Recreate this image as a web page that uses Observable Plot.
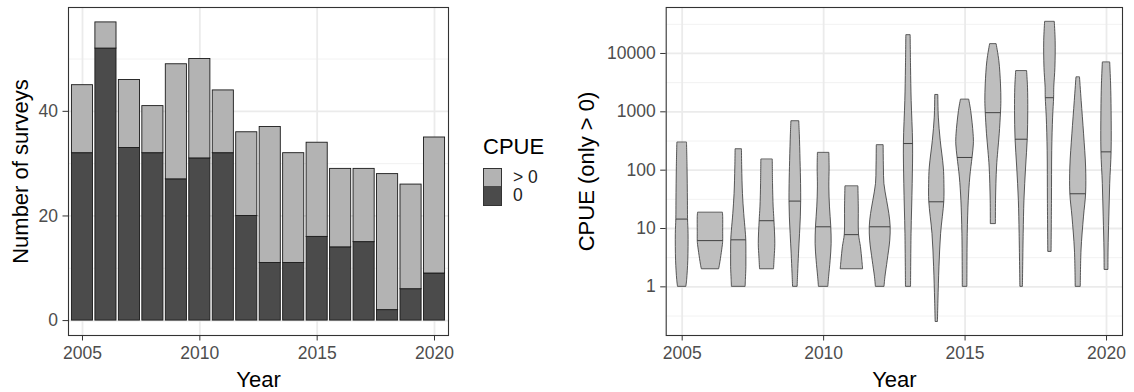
<!DOCTYPE html>
<html>
<head>
<meta charset="utf-8">
<script src="https://cdn.jsdelivr.net/npm/d3@7"></script>
<script src="https://cdn.jsdelivr.net/npm/@observablehq/plot@0.6"></script>
<style>
  html, body { margin: 0; padding: 0; background: white; }
  #wrap { position: relative; width: 1134px; height: 392px; font-family: "Liberation Sans", Arial, sans-serif; }
  #left, #right { position: absolute; top: 0; }
  #left { left: 0; }
  #right { left: 560px; }
  #legend { position: absolute; left: 483px; top: 136px; color: black; }
  #legend .title { font-size: 22px; line-height: 22px; margin-bottom: 10px; }
  #legend .row { display: flex; align-items: center; height: 18.5px; }
  #legend .key { width: 17px; height: 17.5px; border: 1px solid #333; box-sizing: content-box; }
  #legend .row + .row .key { border-top: none; height: 18.5px; }
  #legend .lab { font-size: 17.5px; margin-left: 11px; color: #222; }
</style>
</head>
<body>
<div id="wrap">
  <div id="left"></div>
  <div id="legend">
    <div class="title">CPUE</div>
    <div class="row"><div class="key" style="background:#b3b3b3"></div><div class="lab">&gt; 0</div></div>
    <div class="row"><div class="key" style="background:#4b4b4b"></div><div class="lab">0</div></div>
  </div>
  <div id="right"></div>
</div>
<script>
// Survey counts per year, split by whether any catch was recorded
const years = [2005, 2006, 2007, 2008, 2009, 2010, 2011, 2012, 2013, 2014, 2015, 2016, 2017, 2018, 2019, 2020];
const totalSurveys = [45, 57, 46, 41, 49, 50, 44, 36, 37, 32, 34, 29, 29, 28, 26, 35];
const zeroCatchSurveys = [32, 52, 33, 32, 27, 31, 32, 20, 11, 11, 16, 14, 15, 2, 6, 9];

// Positive CPUE per year: median and violin density profile [cpue, relative density]
const cpueMedian = [14.5, 6.2, 6.4, 13.6, 29.5, 10.7, 7.85, 10.7, 286, 28.7, 165, 968, 339, 1745, 39.4, 206];
const cpueDensity = [
  [[293, .38], [112, .42], [30, .45], [14.5, .46], [8.1, .50], [2.8, .48], [1.3, .39], [1, .33]],
  [[18.4, .98], [15.7, 1], [8.8, 1], [6.2, 1], [5.6, .99], [3.8, .89], [2.4, .75], [2.0, .68]],
  [[225, .25], [111, .27], [39, .33], [17.7, .43], [9.2, .54], [6.4, .59], [3.7, .60], [2.2, .60], [1.3, .56], [1, .54]],
  [[150, .45], [57, .47], [23, .52], [13.6, .58], [5.4, .65], [3.2, .60], [2.0, .55]],
  [[680, .31], [412, .35], [144, .41], [58, .45], [29.5, .46], [15.5, .43], [8.1, .37], [3.7, .29], [1.67, .22], [1, .18]],
  [[195, .45], [111, .47], [50.6, .45], [23, .50], [10.7, .60], [5.4, .63], [2.8, .55], [1.46, .43], [1, .37]],
  [[52, .51], [23, .54], [7.85, .56], [4.8, .71], [2.8, .82], [2.0, .88]],
  [[264, .27], [111, .29], [58, .33], [30, .54], [17.7, .72], [10.7, .82], [6.2, .79], [2.8, .59], [1.46, .41], [1, .34]],
  [[20300, .17], [5700, .20], [1530, .25], [286, .36], [58, .33], [8.1, .24], [1, .20]],
  [[1915, .12], [795, .16], [318, .31], [111, .55], [58, .60], [28.7, .59], [8.1, .34], [2.17, .21], [0.58, .13], [0.25, .09]],
  [[1593, .33], [1030, .48], [412, .67], [276, .69], [165, .59], [75, .41], [30, .29], [8.1, .21], [1, .18]],
  [[14250, .26], [7400, .47], [2950, .60], [1530, .63], [968, .60], [412, .50], [215, .39], [111, .29], [30, .21], [11.9, .20]],
  [[4920, .43], [2590, .50], [1030, .52], [339, .48], [111, .35], [30, .22], [8.1, .16], [1, .10]],
  [[34350, .38], [16200, .45], [5690, .43], [2590, .34], [1745, .33], [795, .25], [215, .18], [30, .16], [3.97, .13]],
  [[3840, .14], [1530, .27], [412, .46], [111, .62], [39.4, .62], [15.5, .45], [4.2, .26], [1, .20]],
  [[6920, .29], [2950, .36], [1035, .40], [206, .40], [58, .29], [15.5, .22], [4.2, .16], [1.95, .15]]
];

const yearTicks = [2005, 2010, 2015, 2020];
const countTicks = [0, 20, 40];
const countMinor = [10, 30, 50];
const cpueTicks = [1, 10, 100, 1000, 10000];
const cpueMinor = [0.316, 3.16, 31.6, 316, 3162, 31623];

const font = "Liberation Sans, Arial, sans-serif";
const gridMajor = "#ebebeb";
const gridMinor = "#f2f2f2";
const ink = "#333333";
const tickText = "#4d4d4d";
const barWidth = 0.9;

// Stacked bars: zero-catch at the bottom, positive catch on top
const barRows = years.flatMap((year, i) => [
  {year, cat: "0", y1: 0, y2: zeroCatchSurveys[i]},
  {year, cat: "> 0", y1: zeroCatchSurveys[i], y2: totalSurveys[i]}
]);

const left = Plot.plot({
  width: 460, height: 392,
  marginLeft: 68, marginRight: 12, marginTop: 7, marginBottom: 57,
  style: {fontFamily: font, background: "white", overflow: "visible"},
  x: {domain: [2004.404, 2020.596]},
  y: {domain: [-2.85, 59.85]},
  color: {domain: ["> 0", "0"], range: ["#b3b3b3", "#4b4b4b"]},
  marks: [
    Plot.gridY(countMinor, {stroke: gridMinor, strokeOpacity: 1, strokeWidth: 1}),
    Plot.gridY(countTicks, {stroke: gridMajor, strokeOpacity: 1, strokeWidth: 1.8}),
    Plot.gridX(yearTicks, {stroke: gridMajor, strokeOpacity: 1, strokeWidth: 1.8}),
    Plot.rect(barRows, {
      x1: d => d.year - barWidth / 2, x2: d => d.year + barWidth / 2,
      y1: "y1", y2: "y2", fill: "cat", stroke: "#1a1a1a", strokeWidth: 0.9
    }),
    Plot.frame({stroke: ink, strokeWidth: 1.1}),
    Plot.axisX(yearTicks, {tickFormat: d => String(d), tickSize: 5.5, tickPadding: 5.5, fontSize: 17.5, stroke: ink, fill: tickText, label: null}),
    Plot.axisY(countTicks, {tickFormat: d => String(d), tickSize: 5.5, tickPadding: 5, fontSize: 17.5, stroke: ink, fill: tickText, label: null}),
    Plot.text(["Year"], {frameAnchor: "bottom", dy: 51, fontSize: 22, lineAnchor: "bottom", fill: "black"}),
    Plot.text(["Number of surveys"], {frameAnchor: "left", dx: -48, rotate: -90, fontSize: 22, textAnchor: "middle", lineAnchor: "middle", fill: "black"})
  ]
});
document.getElementById("left").append(left);

// Violins of positive CPUE on a log scale
const violinRows = years.flatMap((year, i) => cpueDensity[i].map(([cpue, dens]) => ({year, cpue, dens})));
const medianRows = years.map((year, i) => {
  const m = cpueMedian[i];
  const hit = cpueDensity[i].find(([c]) => c === m);
  return {year, cpue: m, dens: hit[1]};
});
const halfMax = 0.45;

const right = Plot.plot({
  width: 574, height: 392,
  marginLeft: 105.7, marginRight: 12, marginTop: 7, marginBottom: 57,
  style: {fontFamily: font, background: "white", overflow: "visible"},
  x: {domain: [2004.435, 2020.565]},
  y: {type: "log", domain: [0.1466, 61376]},
  marks: [
    Plot.gridY(cpueMinor, {stroke: gridMinor, strokeOpacity: 1, strokeWidth: 1}),
    Plot.gridY(cpueTicks, {stroke: gridMajor, strokeOpacity: 1, strokeWidth: 1.8}),
    Plot.gridX(yearTicks, {stroke: gridMajor, strokeOpacity: 1, strokeWidth: 1.8}),
    Plot.areaX(violinRows, {
      y: "cpue",
      x1: d => d.year - halfMax * d.dens, x2: d => d.year + halfMax * d.dens,
      z: "year", fill: "#bebebe", stroke: "#333", strokeWidth: 0.8, curve: "catmull-rom"
    }),
    Plot.ruleY(medianRows, {
      y: "cpue",
      x1: d => d.year - halfMax * d.dens, x2: d => d.year + halfMax * d.dens,
      stroke: "#333", strokeWidth: 0.9
    }),
    Plot.frame({stroke: ink, strokeWidth: 1.1}),
    Plot.axisX(yearTicks, {tickFormat: d => String(d), tickSize: 5.5, tickPadding: 5.5, fontSize: 17.5, stroke: ink, fill: tickText, label: null}),
    Plot.axisY(cpueTicks, {tickFormat: d => String(d), tickSize: 5.5, tickPadding: 5, fontSize: 17.5, stroke: ink, fill: tickText, label: null}),
    Plot.text(["Year"], {frameAnchor: "bottom", dy: 51, fontSize: 22, lineAnchor: "bottom", fill: "black"}),
    Plot.text(["CPUE (only > 0)"], {frameAnchor: "left", dx: -79.2, rotate: -90, fontSize: 22, textAnchor: "middle", lineAnchor: "middle", fill: "black"})
  ]
});
document.getElementById("right").append(right);
</script>
</body>
</html>
